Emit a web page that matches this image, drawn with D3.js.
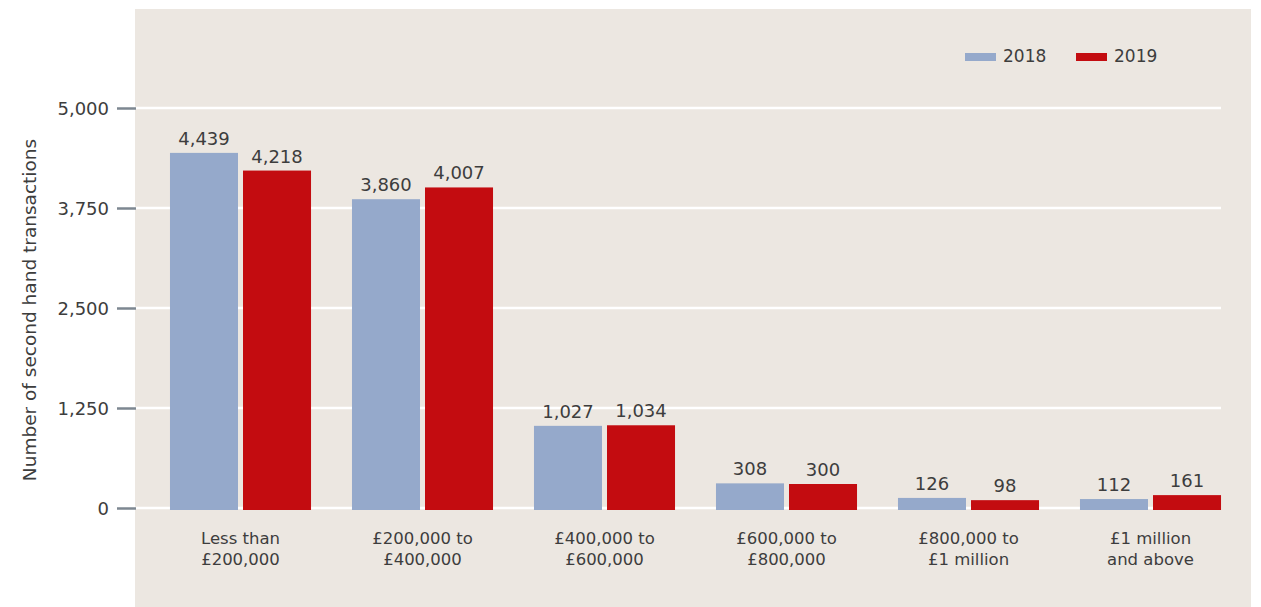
<!DOCTYPE html>
<html>

<head>
    <meta charset="utf-8">
    <script src="https://d3js.org/d3.v7.min.js"></script>
    <style>
        body { margin: 0; background: #ffffff; }
        text { font-family: "DejaVu Sans", "Noto Sans", sans-serif; fill: #3d3d3d; }
    </style>
</head>

<body>
</body>

<script>
    // data
    let categories = ["Less than|£200,000", "£200,000 to|£400,000", "£400,000 to|£600,000",
                      "£600,000 to|£800,000", "£800,000 to|£1 million", "£1 million|and above"];
    let years = ["2018", "2019"];
    let values2018 = [4439, 3860, 1027, 308, 126, 112];
    let values2019 = [4218, 4007, 1034, 300, 98, 161];
    let yTicks = [0, 1250, 2500, 3750, 5000];

    let width = 1261, height = 607;
    let colors = { "2018": "#95a9cb", "2019": "#c30c10" };

    let svg = d3.select("body")
        .append("svg")
            .attr("width", width)
            .attr("height", height);

    // panel
    svg.append("rect")
        .attr("x", 135).attr("y", 9)
        .attr("width", 1116).attr("height", height - 9)
        .attr("fill", "#ece7e1");

    let y = d3.scaleLinear()
        .domain([0, 5000])
        .range([508, 108]);

    let x = d3.scaleBand()
        .domain(categories)
        .range([149.5, 1241.5])
        .paddingInner(0.225)
        .paddingOuter(0.1125);

    let xInner = d3.scaleBand()
        .domain(years)
        .range([0, x.bandwidth()])
        .paddingInner(0.0685);

    // gridlines
    svg.append("g")
        .selectAll("line")
        .data(yTicks)
        .join("line")
            .attr("x1", 135).attr("x2", 1221)
            .attr("y1", d => y(d)).attr("y2", d => y(d))
            .attr("stroke", "#ffffff")
            .attr("stroke-width", 2.5);

    // y axis ticks
    let yAxis = d3.axisLeft(y)
        .tickValues(yTicks)
        .tickFormat(d3.format(","))
        .tickSize(19)
        .tickPadding(8);

    let gy = svg.append("g")
        .attr("transform", "translate(136,0)")
        .call(yAxis);
    gy.select(".domain").remove();
    gy.selectAll(".tick line").attr("stroke", "#7d8791").attr("stroke-width", 2.5);
    gy.selectAll(".tick text")
        .attr("fill", "#3d3d3d")
        .style("font-size", "18px")
        .style("font-family", "'DejaVu Sans', sans-serif")
        .attr("dy", "0.35em");

    // y label
    svg.append("text")
        .attr("transform", "translate(36,310) rotate(-90)")
        .attr("text-anchor", "middle")
        .style("font-size", "18.5px")
        .text("Number of second hand transactions");

    let rows = categories.map((c, i) => ({
        cat: c,
        vals: [{ year: "2018", value: values2018[i] }, { year: "2019", value: values2019[i] }]
    }));

    let groups = svg.append("g")
        .selectAll("g")
        .data(rows)
        .join("g")
            .attr("transform", d => `translate(${x(d.cat)},0)`);

    groups.selectAll("rect")
        .data(d => d.vals)
        .join("rect")
            .attr("x", d => xInner(d.year))
            .attr("y", d => y(d.value))
            .attr("width", xInner.bandwidth())
            .attr("height", d => y(0) - y(d.value) + 2)
            .attr("fill", d => colors[d.year]);

    groups.selectAll("text.val")
        .data(d => d.vals)
        .join("text")
            .attr("class", "val")
            .attr("x", d => xInner(d.year) + xInner.bandwidth() / 2)
            .attr("y", d => y(d.value) - 8)
            .attr("text-anchor", "middle")
            .style("font-size", "18px")
            .text(d => d3.format(",")(d.value));

    // category labels
    groups.append("text")
        .attr("text-anchor", "middle")
        .attr("x", x.bandwidth() / 2)
        .style("font-size", "16.5px")
        .selectAll("tspan")
        .data(d => d.cat.split("|"))
        .join("tspan")
            .attr("x", x.bandwidth() / 2)
            .attr("y", (d, i) => 544 + i * 21)
            .text(d => d);

    // legend
    let legend = svg.append("g")
        .selectAll("g")
        .data(years)
        .join("g")
            .attr("transform", (d, i) => `translate(${965 + i * 111},0)`);
    legend.append("rect")
        .attr("x", 0).attr("y", 53)
        .attr("width", 31).attr("height", 8)
        .attr("fill", d => colors[d]);
    legend.append("text")
        .attr("x", 38).attr("y", 62)
        .style("font-size", "17px")
        .text(d => d);
</script>

</html>
